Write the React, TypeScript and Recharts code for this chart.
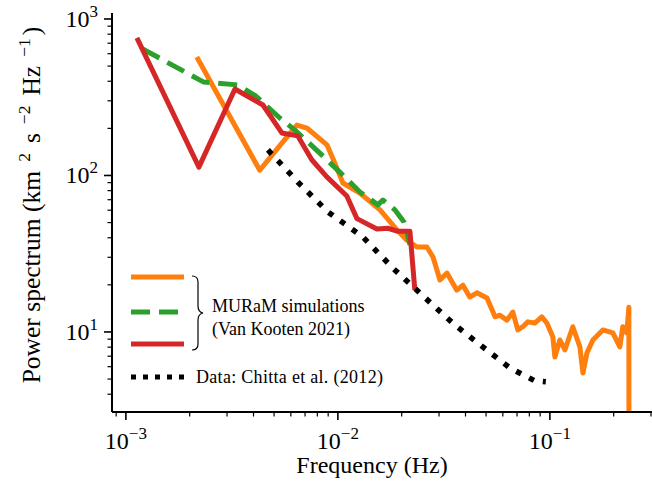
import { LineChart, Line, XAxis, YAxis, Legend } from "recharts";

const W = 700;
const H = 487;
const SERIF = "'Liberation Serif', 'Times New Roman', serif";
const ORANGE = "#ff7f0e";
const GREEN = "#2ca02c";
const RED = "#d62728";

// MURaM run (orange)
const orangeFreq = [
  0.00216, 0.00428, 0.00574, 0.00641, 0.00714, 0.00888, 0.00946, 0.01056, 0.0127, 0.0158,
  0.019, 0.0211, 0.0236, 0.0263, 0.0281, 0.0303, 0.0327, 0.0364, 0.0389, 0.0419,
  0.0453, 0.0505, 0.0551, 0.0581, 0.0627, 0.0669, 0.0706, 0.0746, 0.0787, 0.0849,
  0.0916, 0.0968, 0.1033, 0.1056, 0.1114, 0.1177, 0.1283, 0.1386, 0.1432, 0.1496,
  0.1596, 0.1778, 0.1982, 0.2138, 0.2208, 0.2306, 0.2359, 0.2361,
];
const orangePower = [
  572, 108, 176, 210, 201, 157, 129, 89.5, 77.3, 60.2,
  44.9, 38.7, 34.9, 34.9, 30.1, 21.5, 23.8, 18.5, 19.9, 16.7,
  17.8, 16.5, 12.5, 12.8, 11.9, 13.4, 10.3, 10.8, 11.6, 11.4,
  12.5, 11.4, 9.29, 6.92, 8.89, 7.67, 10.8, 8.02, 5.47, 7.35,
  8.89, 10.3, 9.86, 8.02, 10.8, 9.86, 14.4, 1.5,
];

// MURaM run (green, dashed)
const greenFreq = [0.0012, 0.00233, 0.00337, 0.0041, 0.00532, 0.00627, 0.00822, 0.01021, 0.0127, 0.01545, 0.0163, 0.0186, 0.0205, 0.0219];
const greenPower = [643, 395, 379, 322, 233, 195, 139, 105, 78.5, 64.9, 69.7, 60.2, 50.5, 36];

// MURaM run (red)
const redFreq = [0.001127, 0.00221, 0.00327, 0.00443, 0.00544, 0.00647, 0.00753, 0.00887, 0.01102, 0.0123, 0.01528, 0.01722, 0.0192, 0.02187, 0.02307];
const redPower = [757, 113, 357, 282, 187, 179, 126, 98, 74, 53, 45.5, 46, 44, 44, 18.5];

// Chitta et al. (2012)
const dataFreq = [0.00468, 0.00647, 0.00897, 0.01313, 0.01817, 0.0252, 0.0356, 0.051, 0.0648, 0.0849, 0.0957];
const dataPower = [145.5, 90.8, 58.5, 40.4, 25.6, 17, 11.1, 7.57, 5.89, 4.87, 4.8];

const xTicks = [
  0.0009, 0.001, 0.002, 0.003, 0.004, 0.005, 0.006, 0.007, 0.008, 0.009,
  0.01, 0.02, 0.03, 0.04, 0.05, 0.06, 0.07, 0.08, 0.09, 0.1, 0.2, 0.3,
];
const yTicks = [
  4, 5, 6, 7, 8, 9, 10, 20, 30, 40, 50, 60, 70, 80, 90,
  100, 200, 300, 400, 500, 600, 700, 800, 900, 1000,
];

const pts = (f: number[], p: number[]) => f.map((x, i) => ({ f: x, p: p[i] }));

const majorExp = (v: number) => {
  const e = Math.log10(v);
  return Math.abs(e - Math.round(e)) < 1e-6 ? Math.round(e) : null;
};
const expText = (e: number) => (e < 0 ? "\u2212" + Math.abs(e) : String(e));

function XTick({ x, y, payload }: any) {
  const e = majorExp(payload.value);
  return (
    <g>
      <line x1={x} x2={x} y1={y} y2={y + (e !== null ? 8 : 4.5)} stroke="#000" strokeWidth={e !== null ? 1.6 : 1.2} />
      {e !== null && (
        <text x={x} y={y + 37} textAnchor="middle" fontFamily={SERIF} fontSize={24} fill="#000">
          <tspan>10</tspan>
          <tspan dy={-10} fontSize={17}>{expText(e)}</tspan>
        </text>
      )}
    </g>
  );
}

function YTick({ x, y, payload }: any) {
  const e = majorExp(payload.value);
  return (
    <g>
      <line x1={x} x2={x - (e !== null ? 8 : 4.5)} y1={y} y2={y} stroke="#000" strokeWidth={e !== null ? 1.6 : 1.2} />
      {e !== null && (
        <text x={x - 14} y={y + 8} textAnchor="end" fontFamily={SERIF} fontSize={24} fill="#000">
          <tspan>10</tspan>
          <tspan dy={-10} fontSize={17}>{expText(e)}</tspan>
        </text>
      )}
    </g>
  );
}

function YTitle() {
  const cx = 40;
  const cy = 205;
  return (
    <text x={cx} y={cy} transform={`rotate(-90, ${cx}, ${cy})`} textAnchor="middle" fontFamily={SERIF} fontSize={25.5} fill="#000">
      <tspan>Power spectrum (km</tspan>
      <tspan dx={9} dy={-10} fontSize={17.5}>2</tspan>
      <tspan dx={10} dy={10}>s</tspan>
      <tspan dx={9} dy={-10} fontSize={17.5}>{"\u22122"}</tspan>
      <tspan dx={10} dy={10}>Hz</tspan>
      <tspan dx={9} dy={-10} fontSize={17.5}>{"\u22121"}</tspan>
      <tspan dx={3} dy={10}>)</tspan>
    </text>
  );
}

function XTitle() {
  return (
    <text x={372} y={473} textAnchor="middle" fontFamily={SERIF} fontSize={24} fill="#000">
      Frequency (Hz)
    </text>
  );
}

function LegendArt() {
  return (
    <svg width={W} height={H} style={{ position: "absolute", left: 0, top: 0 }}>
      <line x1={131} x2={184} y1={277} y2={277} stroke={ORANGE} strokeWidth={5} />
      <line x1={131} x2={185} y1={312} y2={312} stroke={GREEN} strokeWidth={5} strokeDasharray="19 9" />
      <line x1={131} x2={184} y1={344} y2={344} stroke={RED} strokeWidth={5} />
      <line x1={131} x2={185} y1={377} y2={377} stroke="#000" strokeWidth={5} strokeDasharray="5 7" />
      <path
        d="M192,276 Q198,276 198,282 L198,306 Q198,312 203,313 Q198,314 198,320 L198,344 Q198,350 192,350"
        fill="none"
        stroke="#000"
        strokeWidth={1.2}
      />
      <text x={212} y={312} fontFamily={SERIF} fontSize={18} fill="#000">MURaM simulations</text>
      <text x={212} y={335} fontFamily={SERIF} fontSize={18} fill="#000">(Van Kooten 2021)</text>
      <text x={196} y={383} fontFamily={SERIF} fontSize={18} letterSpacing={0.3} fill="#000">Data: Chitta et al. (2012)</text>
    </svg>
  );
}

export default function App() {
  return (
    <div style={{ position: "absolute", left: 0, top: 0, width: 652, height: 487, overflow: "hidden", background: "#fff" }}>
      <LineChart width={W} height={H} margin={{ top: 13, right: 22.5, bottom: 0, left: 0 }}>
        <XAxis
          dataKey="f"
          type="number"
          scale="log"
          domain={[0.00086, 0.4]}
          allowDataOverflow
          ticks={xTicks}
          interval={0}
          tick={<XTick />}
          tickLine={false}
          tickSize={0}
          tickMargin={0}
          height={75}
          axisLine={{ stroke: "#000", strokeWidth: 2 }}
          label={<XTitle />}
        />
        <XAxis
          xAxisId="top"
          orientation="top"
          dataKey="f"
          type="number"
          scale="log"
          domain={[0.00086, 0.4]}
          allowDataOverflow
          tick={false}
          tickLine={false}
          height={0}
          axisLine={{ stroke: "#000", strokeWidth: 2 }}
        />
        <YAxis
          dataKey="p"
          type="number"
          scale="log"
          domain={[3.08, 1092]}
          allowDataOverflow
          ticks={yTicks}
          interval={0}
          tick={<YTick />}
          tickLine={false}
          tickSize={0}
          tickMargin={0}
          width={112}
          axisLine={{ stroke: "#000", strokeWidth: 2 }}
          label={<YTitle />}
        />
        <Line data={pts(orangeFreq, orangePower)} dataKey="p" stroke={ORANGE} strokeWidth={5} dot={false} strokeLinejoin="round" isAnimationActive={false} />
        <Line data={pts(greenFreq, greenPower)} dataKey="p" stroke={GREEN} strokeWidth={5} strokeDasharray="19 9" dot={false} strokeLinejoin="round" isAnimationActive={false} />
        <Line data={pts(redFreq, redPower)} dataKey="p" stroke={RED} strokeWidth={5} dot={false} strokeLinejoin="round" isAnimationActive={false} />
        <Line data={pts(dataFreq, dataPower)} dataKey="p" stroke="#000" strokeWidth={5.5} strokeDasharray="5.5 9" dot={false} isAnimationActive={false} />
        <Legend
          layout="vertical"
          align="center"
          verticalAlign="middle"
          wrapperStyle={{ position: "absolute", left: 0, top: 0, width: W, height: H }}
          content={() => <LegendArt />}
        />
      </LineChart>
    </div>
  );
}
